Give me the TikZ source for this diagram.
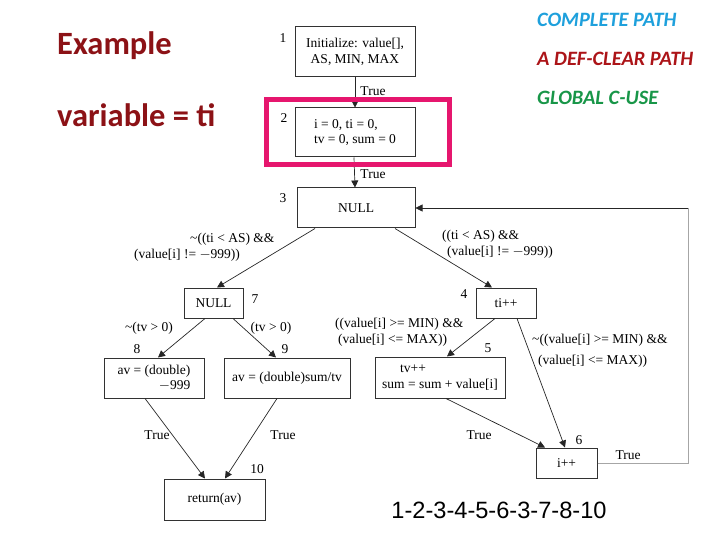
\documentclass[tikz,border=0pt]{standalone}
\usepackage{fontspec}
\setmainfont{Liberation Serif}
\newfontfamily\calib{Carlito}
\newfontfamily\arialf{Liberation Sans}
\usetikzlibrary{arrows.meta}
\definecolor{maroonx}{RGB}{140,18,22}
\definecolor{defred}{RGB}{172,20,24}
\definecolor{cplblue}{RGB}{30,160,220}
\definecolor{gcgreen}{RGB}{24,150,72}
\definecolor{pinkx}{RGB}{230,22,110}
\definecolor{boxline}{RGB}{50,50,50}
\tikzset{
  blk/.style={draw=boxline, line width=1pt, minimum width=#1, inner sep=2pt, font=\fontsize{13.5}{15.8}\selectfont},
  num/.style={font=\fontsize{13.5}{15.8}\selectfont, inner sep=0pt},
  elab/.style={font=\fontsize{13.5}{15.8}\selectfont, inner sep=0pt},
  edge/.style={draw=black!85, line width=0.7pt, -{Triangle[length=7pt,width=7pt]}},
  loopline/.style={draw=black!35, line width=1pt},
  ttl/.style={font=\calib\bfseries\fontsize{32.5}{34}\selectfont, text=maroonx, anchor=west, inner sep=0pt},
  tag/.style={font=\calib\bfseries\itshape\fontsize{20.4}{22}\selectfont, anchor=west, inner sep=0pt},
}
\begin{document}
\begin{tikzpicture}[x=1pt,y=-1pt]
\useasboundingbox (0,0) rectangle (720,540);
% titles
\node[ttl] (ex) at (57,46) {Example};
\node[ttl] (var) at (57,115) {variable = ti};
\node[tag, text=cplblue] (cp) at (537,20) {COMPLETE PATH};
\node[tag, text=defred] (dc) at (537,59) {A DEF-CLEAR PATH};
\node[tag, text=gcgreen] (gc) at (537,98) {GLOBAL C-USE};
\node[font=\arialf\fontsize{23.6}{25}\selectfont, inner sep=0pt] (path) at (499,510) {1-2-3-4-5-6-3-7-8-10};

% nodes
\node[blk=120pt, minimum height=50pt, align=center] (n1) at (355,52) {Initialize: value[],\\ AS, MIN, MAX};
\node[blk=120pt, minimum height=49pt, align=left] (n2) at (355,132.5) {i = 0, ti = 0,\\tv = 0, sum = 0};
\node[blk=118pt, minimum height=40pt] (n3) at (356,208) {NULL};
\node[blk=60pt, minimum height=30pt] (n4) at (506,303) {ti++};
\node[blk=59pt, minimum height=30pt] (n7) at (213.5,303) {NULL};
\node[blk=130pt, minimum height=41pt, align=left] (n5) at (440,377.5) {\hspace{18pt}tv++\\sum = sum + value[i]};
\node[blk=61pt, minimum height=30pt] (n6) at (566.5,463) {i++};
\node[blk=100pt, minimum height=40pt, align=right] (n8) at (154,378) {av = (double)\\$-$999};
\node[blk=126pt, minimum height=40pt] (n9) at (287,378) {av = (double)sum/tv};
\node[blk=101pt, minimum height=41pt] (n10) at (214.5,499.5) {return(av)};

% numbers
\node[num] (l1) at (283,38) {1};
\node[num] (l2) at (284,118) {2};
\node[num] (l3) at (283,198) {3};
\node[num] (l4) at (464,294) {4};
\node[num] (l5) at (488,348) {5};
\node[num] (l6) at (579,440) {6};
\node[num] (l7) at (255,299) {7};
\node[num] (l8) at (137,349) {8};
\node[num] (l9) at (285,349) {9};
\node[num] (l10) at (257,469) {10};

% edges
\draw[edge] (n1.south) -- (n2.north);
\draw[edge] ([xshift=-1pt]n2.south) -- ([xshift=-1pt]n3.north);
\draw[edge] ([xshift=-41pt]n3.south) -- ([xshift=3.5pt]n7.north);
\draw[edge] ([xshift=39pt]n3.south) -- ([xshift=-14pt]n4.north);
\draw[edge] ([xshift=-11pt]n4.south) -- ([xshift=7pt]n5.north);
\draw[edge] ([xshift=11pt]n4.south) -- ([xshift=-1.5pt]n6.north);
\draw[edge] ([xshift=6pt]n5.south) -- ([xshift=-21.5pt]n6.north);
\draw[edge] ([xshift=-8.5pt]n7.south) -- ([xshift=4pt]n8.north);
\draw[edge] ([xshift=19.5pt]n7.south) -- ([xshift=-11pt]n9.north);
\draw[edge] ([xshift=-9pt]n8.south) -- ([xshift=-9.5pt]n10.north);
\draw[edge] ([xshift=-10pt]n9.south) -- ([xshift=10.5pt]n10.north);
\coordinate (lb) at (688,463);
\coordinate (lt) at (688,208);
\draw[loopline] (n6.east) -- (lb) -- (lt);
\draw[edge] (lt) -- (n3.east);

% edge labels
\node[elab] (t12) at (373,91) {True};
\node[elab] (t23) at (373,174) {True};
\node[elab, align=left, anchor=west] (c37) at (134,247) {\hspace{56pt}\textasciitilde((ti < AS) \&\&\\(value[i] != $-$999))};
\node[elab, align=left, anchor=west] (c34) at (442,244) {((ti < AS) \&\&\\\hspace{5pt}(value[i] != $-$999))};
\node[elab, align=left, anchor=west] (c45) at (335,332) {((value[i] >= MIN) \&\&\\\hspace{3pt}(value[i] <= MAX))};
\node[elab, align=left, anchor=west] (c46) at (532,351) {\textasciitilde((value[i] >= MIN) \&\&\\[5pt]\hspace{6pt}(value[i] <= MAX))};
\node[elab] (c78) at (149,328) {\textasciitilde(tv > 0)};
\node[elab] (c79) at (271,328) {(tv > 0)};
\node[elab] (t810) at (157,435) {True};
\node[elab] (t910) at (283,435) {True};
\node[elab] (t56) at (479,435) {True};
\node[elab] (t63) at (628,455) {True};

% highlight
\draw[pinkx, line width=5pt] (266,100) rectangle (449,165);
\end{tikzpicture}
\end{document}
